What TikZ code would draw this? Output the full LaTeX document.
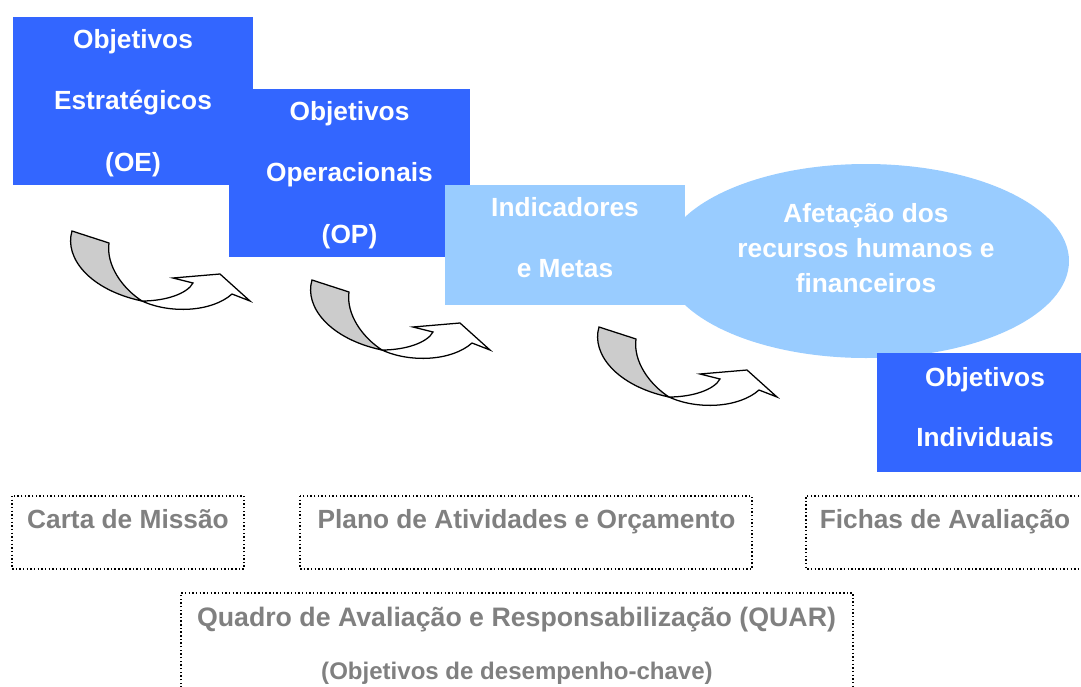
\documentclass[tikz,border=0pt]{standalone}
\usepackage{fontspec}
\setmainfont{Liberation Sans}
\usepackage{tikz}
\usetikzlibrary{positioning}

\definecolor{darkblue}{HTML}{3366FF}
\definecolor{lightblue}{HTML}{99CCFF}
\definecolor{txtgray}{HTML}{808080}
\definecolor{ribbon}{HTML}{CCCCCC}

\begin{document}
\begin{tikzpicture}[x=0.025cm,y=-0.025cm,
  wtxt/.style={text=white,anchor=base,inner sep=0pt,font=\fontsize{18.7}{22}\selectfont\bfseries},
  gtxt/.style={text=txtgray,anchor=base,inner sep=0pt,font=\fontsize{18.7}{22}\selectfont\bfseries},
  frame/.style={draw=black,line width=1pt,dash pattern=on 1pt off 1.6pt},
  uturn/.pic={
    \filldraw[fill=ribbon,line width=0.9pt,line join=miter] (0,0) -- (37,12)
      .. controls (34,34) and (50,57) .. (70,70)
      .. controls (18,59) and (-8,27) .. cycle;
    \filldraw[fill=white,line width=0.9pt,line join=miter] (70,70)
      .. controls (93,70) and (115,63) .. (121,52) -- (101,47) -- (148,43)
      -- (178,70) -- (160,63) .. controls (140,81) and (98,83) .. cycle;
  }]
\useasboundingbox (0,0) rectangle (1081,686);

% boxes
\fill[darkblue] (13,17) rectangle (253,185);
\fill[darkblue] (229,89) rectangle (470,257);
\fill[lightblue] (445,185) rectangle (685,305);
\fill[lightblue] (866,261) ellipse [x radius=203, y radius=97];
\fill[darkblue] (877,353) rectangle (1081,472);

\node[wtxt] (oe1) at (133,48) {Objetivos};
\node[wtxt] (oe2) at (133,109.5) {Estratégicos};
\node[wtxt] (oe3) at (133,171) {(OE)};

\node[wtxt] (op1) at (349.5,120) {Objetivos};
\node[wtxt] (op2) at (349.5,181.5) {Operacionais};
\node[wtxt] (op3) at (349.5,243) {(OP)};

\node[wtxt] (im1) at (565,216) {Indicadores};
\node[wtxt] (im2) at (565,277) {e Metas};

\node[wtxt] (rh1) at (866,222) {Afetação dos};
\node[wtxt] (rh2) at (866,257) {recursos humanos e};
\node[wtxt] (rh3) at (866,292) {financeiros};

\node[wtxt] (oi1) at (985,386) {Objetivos};
\node[wtxt] (oi2) at (985,446) {Individuais};

% curved arrows
\pic at (72,231) {uturn};
\pic at (312,280) {uturn};
\pic at (599,327) {uturn};

% documents
\draw[frame] (12,496) rectangle (244,569);
\node[gtxt] (carta) at (128,528.5) {Carta de Missão};

\draw[frame] (300,496) rectangle (752,569);
\node[gtxt] (plano) at (526.5,528.5) {Plano de Atividades e Orçamento};

\draw[frame] (1090,496) -| (806,569) -- (1090,569);
\node[gtxt] (fichas) at (945,528.5) {Fichas de Avaliação};

\draw[frame] (181,695) |- (853,593) -- (853,695);
\node[gtxt,font=\fontsize{19}{22}\selectfont\bfseries] (quar1) at (516.5,626) {Quadro de Avaliação e Responsabilização (QUAR)};
\node[gtxt,font=\fontsize{17.1}{20}\selectfont\bfseries] (quar2) at (517,679) {(Objetivos de desempenho-chave)};

\end{tikzpicture}
\end{document}
